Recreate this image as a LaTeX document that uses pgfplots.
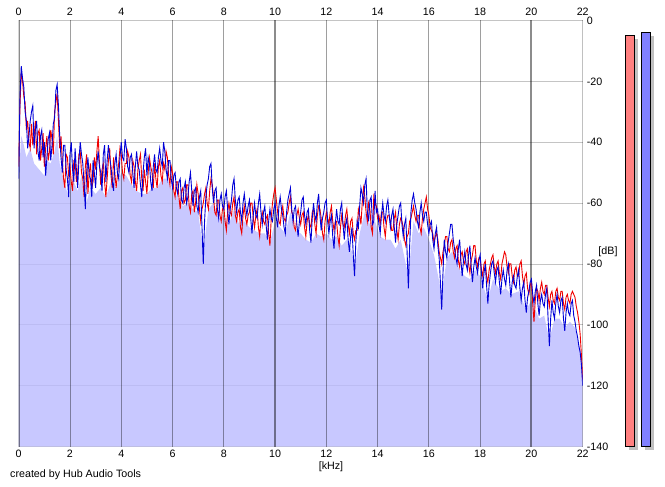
\documentclass[border=0pt]{standalone}
\usepackage{pgfplots}
\pgfplotsset{compat=1.18}
\usepackage{pgfplotstable}
\usepackage{fontspec}
\setmainfont{Liberation Sans}
\definecolor{chred}{RGB}{240,0,0}
\definecolor{chblue}{RGB}{0,0,215}
\definecolor{barred}{RGB}{255,128,128}
\definecolor{barblue}{RGB}{128,128,255}
\definecolor{shadowgray}{RGB}{192,192,192}
\definecolor{gridh}{RGB}{196,196,196}
\definecolor{lav}{RGB}{186,186,255}

\pgfplotstableread{
x b r
0.00 -52 -48
0.05 -25 -28
0.10 -15 -17
0.15 -19 -20
0.20 -22 -25
0.25 -30 -27
0.30 -33 -36
0.35 -42 -33
0.40 -38 -40
0.45 -33 -42
0.50 -30 -34
0.55 -28 -41
0.60 -42 -38
0.65 -36 -33
0.70 -33 -44
0.75 -43 -37
0.80 -46 -36
0.85 -38 -46
0.90 -36 -42
0.95 -45 -37
1.00 -40 -48
1.05 -51 -42
1.10 -45 -38
1.15 -39 -46
1.20 -37 -43
1.25 -46 -36
1.30 -41 -39
1.35 -34 -44
1.40 -32 -30
1.45 -23 -27
1.50 -21 -24
1.55 -28 -33
1.60 -38 -42
1.65 -45 -38
1.70 -50 -46
1.75 -41 -52
1.80 -41 -55
1.85 -49 -44
1.90 -52 -45
1.95 -58 -51
2.00 -44 -48
2.05 -40 -53
2.10 -49 -56
2.15 -53 -46
2.20 -42 -46
2.25 -49 -53
2.30 -55 -50
2.35 -46 -44
2.40 -40 -43
2.45 -44 -50
2.50 -47 -52
2.55 -54 -58
2.60 -62 -48
2.65 -50 -44
2.70 -45 -57
2.75 -51 -50
2.80 -52 -47
2.85 -58 -55
2.90 -46 -53
2.95 -50 -45
3.00 -55 -49
3.05 -47 -43
3.10 -43 -38
3.15 -48 -47
3.20 -50 -54
3.25 -56 -49
3.30 -44 -47
3.35 -41 -53
3.40 -53 -58
3.45 -46 -52
3.50 -41 -46
3.55 -45 -42
3.60 -48 -51
3.65 -53 -55
3.70 -56 -45
3.75 -47 -50
3.80 -44 -55
3.85 -50 -51
3.90 -52 -47
3.95 -45 -42
4.00 -40 -44
4.05 -45 -50
4.10 -46 -52
4.15 -39 -47
4.20 -42 -47
4.25 -48 -43
4.30 -50 -45
4.35 -45 -51
4.40 -44 -53
4.45 -50 -46
4.50 -55 -48
4.55 -48 -53
4.60 -43 -56
4.65 -48 -49
4.70 -49 -46
4.75 -54 -44
4.80 -58 -52
4.85 -50 -56
4.90 -45 -49
4.95 -42 -53
5.00 -51 -57
5.05 -45 -50
5.10 -47 -45
5.15 -53 -48
5.20 -56 -50
5.25 -48 -55
5.30 -44 -47
5.35 -49 -52
5.40 -50 -55
5.45 -45 -48
5.50 -42 -46
5.55 -46 -51
5.60 -48 -53
5.65 -40 -47
5.70 -43 -49
5.75 -49 -43
5.80 -52 -45
5.85 -46 -51
5.90 -46 -54
5.95 -52 -48
6.00 -55 -50
6.05 -51 -56
6.10 -50 -58
6.15 -55 -53
6.20 -57 -53
6.25 -53 -58
6.30 -52 -62
6.35 -59 -56
6.40 -60 -55
6.45 -55 -60
6.50 -53 -59
6.55 -60 -54
6.60 -58 -54
6.65 -53 -61
6.70 -50 -63
6.75 -56 -57
6.80 -61 -56
6.85 -56 -63
6.90 -55 -60
6.95 -61 -54
7.00 -63 -57
7.05 -58 -62
7.10 -56 -66
7.15 -68 -62
7.20 -80 -60
7.25 -66 -57
7.30 -58 -55
7.35 -54 -60
7.40 -52 -62
7.45 -48 -56
7.50 -47 -52
7.55 -55 -54
7.60 -60 -58
7.65 -56 -63
7.70 -55 -64
7.75 -62 -59
7.80 -65 -59
7.85 -59 -64
7.90 -57 -66
7.95 -61 -62
8.00 -62 -61
8.05 -58 -66
8.10 -56 -69
8.15 -62 -63
8.20 -67 -60
8.25 -62 -63
8.30 -59 -64
8.35 -54 -60
8.40 -52 -58
8.45 -59 -64
8.50 -63 -66
8.55 -59 -63
8.60 -58 -62
8.65 -63 -68
8.70 -66 -70
8.75 -60 -64
8.80 -57 -61
8.85 -61 -65
8.90 -64 -67
8.95 -61 -64
9.00 -59 -63
9.05 -65 -60
9.10 -70 -60
9.15 -64 -65
9.20 -60 -68
9.25 -64 -64
9.30 -65 -62
9.35 -60 -68
9.40 -57 -71
9.45 -63 -65
9.50 -67 -63
9.55 -63 -66
9.60 -61 -67
9.65 -67 -65
9.70 -72 -64
9.75 -66 -70
9.80 -62 -74
9.85 -65 -65
9.90 -66 -60
9.95 -62 -57
10.00 -60 -55
10.05 -65 -59
10.10 -68 -63
10.15 -61 -66
10.20 -58 -67
10.25 -62 -63
10.30 -64 -61
10.35 -68 -65
10.40 -70 -66
10.45 -63 -64
10.50 -59 -63
10.55 -57 -60
10.60 -55 -58
10.65 -62 -63
10.70 -66 -64
10.75 -62 -68
10.80 -61 -69
10.85 -67 -64
10.90 -71 -62
10.95 -66 -65
11.00 -63 -67
11.05 -59 -64
11.10 -58 -63
11.15 -64 -68
11.20 -67 -71
11.25 -63 -66
11.30 -62 -64
11.35 -69 -67
11.40 -73 -68
11.45 -65 -63
11.50 -60 -62
11.55 -64 -67
11.60 -66 -70
11.65 -60 -64
11.70 -57 -61
11.75 -64 -62
11.80 -69 -65
11.85 -65 -70
11.90 -63 -72
11.95 -60 -66
12.00 -59 -63
12.05 -66 -65
12.10 -70 -67
12.15 -66 -63
12.20 -64 -61
12.25 -71 -66
12.30 -75 -69
12.35 -67 -66
12.40 -62 -66
12.45 -66 -71
12.50 -67 -74
12.55 -62 -68
12.60 -60 -64
12.65 -67 -67
12.70 -72 -68
12.75 -67 -64
12.80 -65 -62
12.85 -72 -67
12.90 -76 -70
12.95 -71 -66
13.00 -68 -65
13.05 -77 -70
13.10 -84 -72
13.15 -73 -69
13.20 -66 -69
13.25 -68 -62
13.30 -61 -64
13.35 -55 -67
13.40 -57 -60
13.45 -60 -55
13.50 -54 -58
13.55 -52 -63
13.60 -63 -66
13.65 -66 -60
13.70 -59 -62
13.75 -58 -68
13.80 -67 -70
13.85 -66 -58
13.90 -56 -60
13.95 -63 -61
14.00 -62 -65
14.05 -67 -64
14.10 -70 -67
14.15 -64 -63
14.20 -60 -63
14.25 -64 -68
14.30 -66 -71
14.35 -61 -66
14.40 -59 -64
14.45 -64 -64
14.50 -68 -66
14.55 -64 -69
14.60 -62 -69
14.65 -68 -65
14.70 -73 -63
14.75 -67 -69
14.80 -64 -72
14.85 -61 -67
14.90 -60 -65
14.95 -67 -66
15.00 -71 -68
15.05 -67 -72
15.10 -65 -74
15.15 -76 -71
15.20 -88 -70
15.25 -74 -66
15.30 -63 -65
15.35 -59 -63
15.40 -57 -61
15.45 -60 -64
15.50 -62 -66
15.55 -66 -64
15.60 -68 -64
15.65 -63 -68
15.70 -60 -70
15.75 -64 -65
15.80 -66 -62
15.85 -63 -60
15.90 -63 -58
15.95 -67 -62
16.00 -70 -64
16.05 -67 -68
16.10 -66 -69
16.15 -72 -70
16.20 -75 -73
16.25 -70 -71
16.30 -68 -70
16.35 -74 -72
16.40 -78 -76
16.45 -86 -78
16.50 -95 -80
16.55 -83 -76
16.60 -72 -74
16.65 -76 -71
16.70 -78 -71
16.75 -73 -75
16.80 -70 -76
16.85 -67 -73
16.90 -67 -72
16.95 -72 -76
17.00 -75 -78
17.05 -78 -75
17.10 -80 -74
17.15 -75 -79
17.20 -72 -81
17.25 -79 -77
17.30 -84 -76
17.35 -79 -79
17.40 -76 -80
17.45 -80 -76
17.50 -82 -75
17.55 -77 -80
17.60 -74 -83
17.65 -81 -79
17.70 -86 -77
17.75 -81 -74
17.80 -78 -74
17.85 -81 -79
17.90 -83 -81
17.95 -79 -78
18.00 -77 -78
18.05 -83 -82
18.10 -88 -84
18.15 -83 -80
18.20 -80 -79
18.25 -87 -84
18.30 -93 -86
18.35 -87 -82
18.40 -83 -80
18.45 -80 -78
18.50 -79 -77
18.55 -83 -81
18.60 -86 -83
18.65 -82 -80
18.70 -81 -79
18.75 -86 -83
18.80 -90 -85
18.85 -85 -80
18.90 -82 -78
18.95 -85 -76
19.00 -87 -77
19.05 -82 -81
19.10 -80 -83
19.15 -86 -80
19.20 -91 -80
19.25 -86 -84
19.30 -84 -86
19.35 -87 -82
19.40 -88 -81
19.45 -84 -84
19.50 -82 -84
19.55 -88 -80
19.60 -92 -79
19.65 -88 -84
19.70 -86 -87
19.75 -92 -84
19.80 -96 -83
19.85 -91 -88
19.90 -89 -90
19.95 -86 -87
20.00 -85 -86
20.05 -90 -93
20.10 -93 -99
20.15 -89 -92
20.20 -87 -88
20.25 -93 -89
20.30 -97 -92
20.35 -92 -88
20.40 -90 -86
20.45 -93 -89
20.50 -94 -90
20.55 -90 -87
20.60 -88 -87
20.65 -98 -91
20.70 -107 -94
20.75 -98 -90
20.80 -92 -89
20.85 -96 -92
20.90 -98 -93
20.95 -93 -89
21.00 -90 -88
21.05 -94 -91
21.10 -96 -92
21.15 -92 -89
21.20 -91 -89
21.25 -98 -93
21.30 -102 -95
21.35 -96 -91
21.40 -93 -90
21.45 -96 -92
21.50 -97 -93
21.55 -93 -90
21.60 -92 -89
21.65 -97 -90
21.70 -99 -91
21.75 -102 -94
21.80 -104 -96
21.85 -107 -99
21.90 -109 -103
21.95 -113 -110
22.00 -120 -118
}\spec

\pgfplotstableread{
x f
0.0 -140
0.0 -52
0.1 -38
0.2 -41
0.3 -45
0.45 -42
0.6 -47
0.8 -49
1.0 -51
1.1 -46
1.25 -47
1.4 -43
1.5 -38
1.6 -47
1.8 -54
1.95 -58
2.1 -52
2.3 -56
2.45 -51
2.6 -61
2.8 -55
3.0 -57
3.2 -55
3.4 -58
3.6 -53
3.8 -55
4.0 -50
4.2 -51
4.4 -54
4.6 -56
4.8 -57
5.0 -57
5.2 -55
5.4 -55
5.6 -52
5.8 -52
6.0 -56
6.2 -58
6.4 -61
6.6 -60
6.8 -62
7.0 -63
7.2 -76
7.4 -62
7.6 -60
7.8 -65
8.0 -64
8.2 -67
8.4 -62
8.6 -67
8.8 -66
9.0 -68
9.2 -69
9.4 -70
9.6 -70
9.8 -73
10.0 -66
10.2 -68
10.4 -70
10.6 -63
10.8 -69
11.0 -70
11.2 -72
11.4 -73
11.6 -70
11.8 -71
12.0 -70
12.2 -72
12.4 -71
12.6 -74
12.8 -72
13.0 -76
13.1 -82
13.3 -70
13.5 -63
13.7 -67
13.9 -66
14.1 -71
14.3 -72
14.5 -72
14.7 -75
14.9 -72
15.2 -84
15.4 -66
15.6 -70
15.8 -68
16.0 -72
16.2 -77
16.5 -90
16.7 -78
16.9 -76
17.2 -82
17.4 -84
17.6 -85
17.8 -82
18.0 -84
18.3 -92
18.5 -85
18.8 -89
19.0 -88
19.2 -90
19.5 -89
19.8 -95
20.0 -92
20.3 -98
20.5 -97
20.7 -105
20.9 -98
21.1 -98
21.3 -101
21.5 -99
21.7 -101
21.9 -108
22.0 -120
22.0 -140
}\fillenv

\begin{document}
\begin{tikzpicture}[font=\fontsize{10.7bp}{12bp}\selectfont]
\useasboundingbox (0,0) rectangle (665bp,487bp);
\begin{axis}[
  at={(18.7bp,40.5bp)}, anchor=south west,
  scale only axis, width=564bp, height=426bp,
  xmin=0, xmax=22, ymin=-140, ymax=0,
  xtick={0,2,...,22}, ytick={0,-20,...,-140},
  /pgf/number format/assume math mode=true,
  axis line style={draw=none},
  major tick length=0pt,
  ymajorgrids,
  major y grid style={gridh, line width=0.8bp},
  yticklabel pos=right,
  yticklabel style={anchor=west, inner sep=0pt, xshift=4bp},
  xticklabel style={anchor=north, inner sep=0pt, yshift=-3.5bp},
]
\addplot[draw=none, fill=lav, fill opacity=0.8, forget plot] table[x=x, y=f] {\fillenv};
% vertical grid lines
\addplot[black, opacity=0.38, line width=0.9bp, forget plot] coordinates {(2,-140) (2,0)};
\addplot[black, opacity=0.38, line width=0.9bp, forget plot] coordinates {(4,-140) (4,0)};
\addplot[black, opacity=0.38, line width=0.9bp, forget plot] coordinates {(6,-140) (6,0)};
\addplot[black, opacity=0.38, line width=0.9bp, forget plot] coordinates {(8,-140) (8,0)};
\addplot[black, opacity=0.38, line width=0.9bp, forget plot] coordinates {(12,-140) (12,0)};
\addplot[black, opacity=0.38, line width=0.9bp, forget plot] coordinates {(14,-140) (14,0)};
\addplot[black, opacity=0.38, line width=0.9bp, forget plot] coordinates {(16,-140) (16,0)};
\addplot[black, opacity=0.38, line width=0.9bp, forget plot] coordinates {(18,-140) (18,0)};
\addplot[black, opacity=0.38, line width=0.9bp, forget plot] coordinates {(22,-140) (22,0)};
\addplot[black, opacity=0.45, line width=2bp, forget plot] coordinates {(0,-140) (0,0)};
\addplot[black, opacity=0.45, line width=2bp, forget plot] coordinates {(10,-140) (10,0)};
\addplot[black, opacity=0.45, line width=2bp, forget plot] coordinates {(20,-140) (20,0)};
% channels
\addplot[chred, line width=0.9bp] table[x=x, y=r] {\spec};
\addplot[chblue, line width=0.9bp] table[x=x, y=b] {\spec};
\end{axis}
% top tick labels
\begin{axis}[
  at={(18.7bp,40.5bp)}, anchor=south west,
  scale only axis, width=564bp, height=426bp,
  xmin=0, xmax=22, ymin=-140, ymax=0,
  xtick={0,2,...,22}, ytick=\empty,
  /pgf/number format/assume math mode=true,
  axis line style={draw=none},
  major tick length=0pt,
  xticklabel pos=upper,
  xticklabel style={anchor=south, inner sep=0pt, yshift=4.5bp},
]
\addplot[draw=none] coordinates {(0,-140)};
\end{axis}
% level meter bars
\begin{axis}[
  at={(620bp,40.5bp)}, anchor=south west,
  scale only axis, width=36bp, height=426bp,
  xmin=0, xmax=36, ymin=-140, ymax=0,
  hide axis, clip=false,
]
\addplot[draw=none, fill=shadowgray] coordinates {(9,-141.3) (18.3,-141.3) (18.3,-6.1) (9,-6.1)} -- cycle;
\addplot[draw=none, fill=shadowgray] coordinates {(25.3,-141.3) (34.3,-141.3) (34.3,-5.2) (25.3,-5.2)} -- cycle;
\addplot[draw=black, line width=0.8bp, fill=barred] coordinates {(5,-140) (14.3,-140) (14.3,-4.77) (5,-4.77)} -- cycle;
\addplot[draw=black, line width=0.8bp, fill=barblue] coordinates {(21.3,-140) (30.3,-140) (30.3,-3.88) (21.3,-3.88)} -- cycle;
\end{axis}
\node[anchor=west, inner sep=0pt] at (10bp,12bp) {created by Hub Audio Tools};
\node[inner sep=0pt] at (331bp,20.5bp) {[kHz]};
\node[inner sep=0pt] at (608bp,235.5bp) {[dB]};
\end{tikzpicture}
\end{document}
